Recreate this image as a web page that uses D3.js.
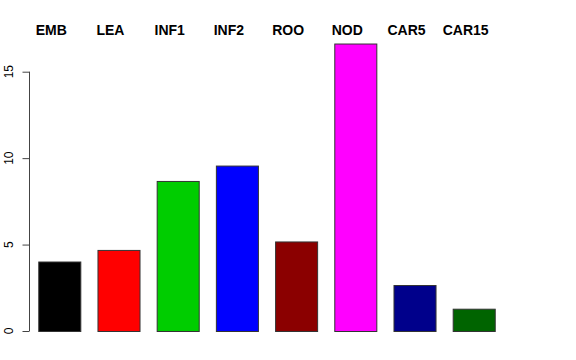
<!DOCTYPE html>
<html><head><meta charset="utf-8">
<script src="https://cdn.jsdelivr.net/npm/d3@7"></script>
<style>body{margin:0;background:#fff}svg{display:block}</style>
</head><body>
<script>
const categories = ["EMB","LEA","INF1","INF2","ROO","NOD","CAR5","CAR15"];
const values = [4.02, 4.69, 8.68, 9.57, 5.18, 16.63, 2.66, 1.29];
const colors = ["#000000","#ff0000","#00cd00","#0000ff","#8b0000","#ff00ff","#00008b","#006400"];
const yTicks = [0, 5, 10, 15];

const W = 576, H = 360;
const svg = d3.select("body").append("svg").attr("width", W).attr("height", H);

const y = d3.scaleLinear().domain([0, 15]).range([331, 71.7]);
const x = d3.scaleBand().domain(categories).range([28.8, 504.2]).paddingInner(0.29).paddingOuter(0.16);

svg.append("g").selectAll("rect").data(values).join("rect")
  .attr("x", (d,i) => x(categories[i]) + 0.5)
  .attr("y", d => y(d) + 0.5)
  .attr("width", x.bandwidth())
  .attr("height", d => y(0) - y(d))
  .attr("fill", (d,i) => colors[i])
  .attr("stroke", "#333")
  .attr("stroke-width", 1);

const axis = d3.axisLeft(y).tickValues(yTicks).tickSize(7).tickFormat(d3.format("d"));
const g = svg.append("g").attr("transform", "translate(29.5,0)").call(axis);
g.select(".domain").attr("d", `M0,${y(0)}V${y(15)}`).attr("stroke", "#444");
g.selectAll(".tick line").attr("stroke", "#444");
g.selectAll(".tick text").remove();

svg.append("g").selectAll("text").data(yTicks).join("text")
  .attr("transform", d => `translate(12.5,${y(d)}) rotate(-90)`)
  .attr("text-anchor", "middle")
  .attr("font-family", "Liberation Sans, Arial, sans-serif")
  .attr("font-size", 12)
  .attr("fill", "#000")
  .text(d => d);

svg.append("g").selectAll("text").data(categories).join("text")
  .attr("x", d => x(d) + x.bandwidth()/2 - 8)
  .attr("y", 35)
  .attr("text-anchor", "middle")
  .attr("font-family", "Liberation Sans, Arial, sans-serif")
  .attr("font-weight", "bold")
  .attr("font-size", 14)
  .attr("fill", "#000")
  .text(d => d);
</script>
</body></html>
